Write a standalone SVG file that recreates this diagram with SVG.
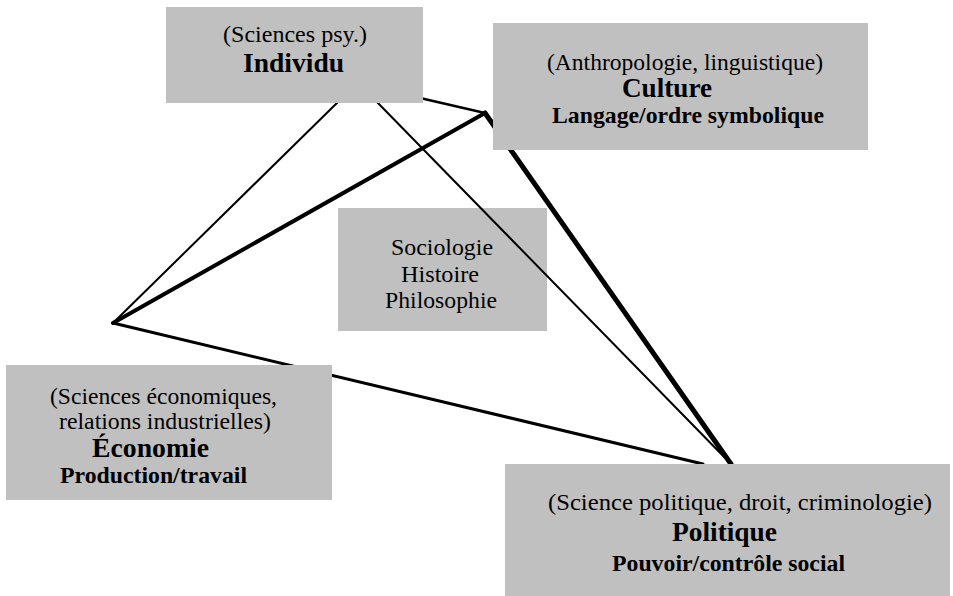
<svg xmlns="http://www.w3.org/2000/svg" width="953" height="596" viewBox="0 0 953 596">
<style>
.box{fill:#c0c0c0;stroke:none}
text{font-family:"Liberation Serif","Times New Roman",Times,serif;fill:#000}
.r{font-size:23.5px}
.h{font-size:27px;font-weight:bold}
.s{font-size:23px;font-weight:bold}
.ln{stroke:#000;fill:none;stroke-linecap:round}
</style>
<rect width="953" height="596" fill="#fff"/>
<g id="sociologie">
<rect class="box" x="338" y="208" width="209" height="123"/>
<text class="r" x="391" y="255" textLength="102" lengthAdjust="spacingAndGlyphs">Sociologie</text>
<text class="r" x="401" y="282" textLength="78" lengthAdjust="spacingAndGlyphs">Histoire</text>
<text class="r" x="385" y="308" textLength="112" lengthAdjust="spacingAndGlyphs">Philosophie</text>
</g>
<g id="connectors">
<line class="ln" x1="340" y1="100" x2="113" y2="323" stroke-width="2"/>
<line class="ln" x1="375" y1="100" x2="731" y2="464" stroke-width="2"/>
<line class="ln" x1="420" y1="98" x2="485" y2="113" stroke-width="2.5"/>
<line class="ln" x1="113" y1="323" x2="485" y2="113" stroke-width="4"/>
<line class="ln" x1="485" y1="113" x2="731" y2="464" stroke-width="5"/>
<line class="ln" x1="113" y1="323" x2="703" y2="464" stroke-width="3"/>
</g>
<g id="individu">
<rect class="box" x="166" y="7" width="257" height="96"/>
<text class="r" x="223" y="42" textLength="144" lengthAdjust="spacingAndGlyphs">(Sciences psy.)</text>
<text class="h" x="243" y="72" textLength="101" lengthAdjust="spacingAndGlyphs">Individu</text>
</g>
<g id="culture">
<rect class="box" x="493" y="23" width="375" height="127"/>
<text class="r" x="547" y="70" textLength="276" lengthAdjust="spacingAndGlyphs">(Anthropologie, linguistique)</text>
<text class="h" x="622" y="97" textLength="90" lengthAdjust="spacingAndGlyphs">Culture</text>
<text class="s" x="552" y="123" textLength="272" lengthAdjust="spacingAndGlyphs">Langage/ordre symbolique</text>
</g>
<g id="economie">
<rect class="box" x="6" y="365" width="326" height="135"/>
<text class="r" x="50" y="404" textLength="227" lengthAdjust="spacingAndGlyphs">(Sciences économiques,</text>
<text class="r" x="59" y="429" textLength="212" lengthAdjust="spacingAndGlyphs">relations industrielles)</text>
<text class="h" x="92" y="457" textLength="117" lengthAdjust="spacingAndGlyphs">Économie</text>
<text class="s" x="60" y="483" textLength="187" lengthAdjust="spacingAndGlyphs">Production/travail</text>
</g>
<g id="politique">
<rect class="box" x="505" y="464" width="445" height="132"/>
<text class="r" x="548" y="510" textLength="384" lengthAdjust="spacingAndGlyphs">(Science politique, droit, criminologie)</text>
<text class="h" x="672" y="541" textLength="105" lengthAdjust="spacingAndGlyphs">Politique</text>
<text class="s" x="612" y="571" textLength="233" lengthAdjust="spacingAndGlyphs">Pouvoir/contrôle social</text>
</g>
</svg>
